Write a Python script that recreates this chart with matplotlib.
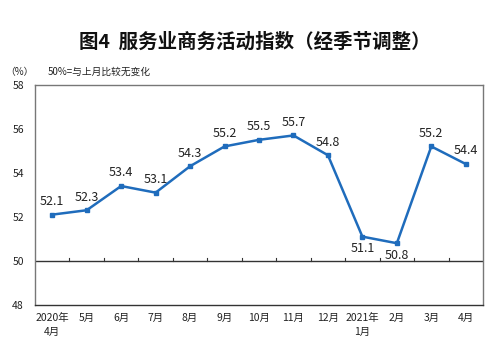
import matplotlib.pyplot as plt
import numpy as np

plt.rcParams['font.family'] = ['Noto Sans CJK SC', 'DejaVu Sans']

months = ['2020年\n4月', '5月', '6月', '7月', '8月', '9月', '10月', '11月', '12月',
          '2021年\n1月', '2月', '3月', '4月']
values = [52.1, 52.3, 53.4, 53.1, 54.3, 55.2, 55.5, 55.7, 54.8, 51.1, 50.8, 55.2, 54.4]
below = [False] * 9 + [True, True] + [False, False]

fig = plt.figure(figsize=(5, 3.52), dpi=100)
ax = fig.add_axes([0.07, 0.134, 0.896, 0.625])
x = np.arange(len(values))

ax.axhline(50, color='#333333', lw=1.0, zorder=1)
# small ticks on the 50 line between months
for b in x[:-1] + 0.5:
    ax.plot([b, b], [50, 50.15], color='#333333', lw=0.8, zorder=1)

ax.plot(x, values, color='#1f6cbc', lw=1.8, marker='s', markersize=3.5, zorder=3)
for xi, v, lo in zip(x, values, below):
    if lo:
        ax.text(xi, v - 0.25, f'{v:.1f}', ha='center', va='top', fontsize=9, color='#222222')
    else:
        ax.text(xi, v + 0.3, f'{v:.1f}', ha='center', va='bottom', fontsize=9, color='#222222')

ax.set_xlim(-0.5, len(values) - 0.5)
ax.set_ylim(48, 58)
ax.set_yticks([48, 50, 52, 54, 56, 58])
ax.set_xticks(x)
ax.set_xticklabels(months, fontsize=7.5, color='#222222', linespacing=1.5)
ax.tick_params(axis='both', length=0, labelsize=7.5, colors='#222222')
ax.tick_params(axis='x', pad=6)
ax.tick_params(axis='y', pad=8)
for s in ax.spines.values():
    s.set_color('#777777')
    s.set_linewidth(1.0)
ax.spines['bottom'].set_color('#333333')

fig.text(0.51, 0.88, '图4  服务业商务活动指数（经季节调整）', ha='center', va='center',
         fontsize=14, fontweight='bold', color='#111111')
fig.text(0.01, 0.795, '（%）', fontsize=7, color='#222222', va='center')
fig.text(0.095, 0.795, '50%=与上月比较无变化', fontsize=7, color='#222222', va='center')

fig.savefig('out.png', dpi=100, facecolor='white')
